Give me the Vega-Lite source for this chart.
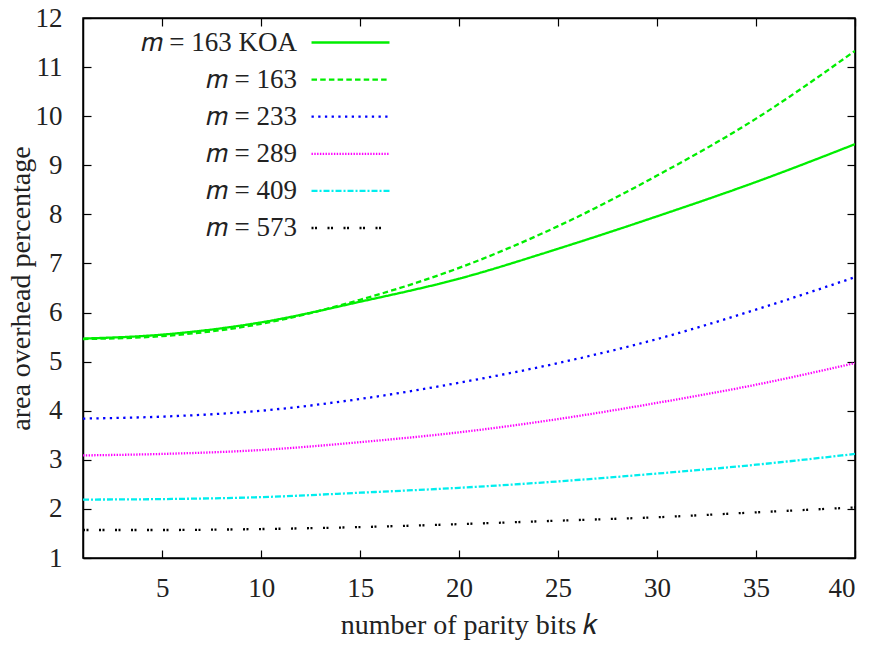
{
  "$schema": "https://vega.github.io/schema/vega-lite/v6.json",
  "width": 772,
  "height": 540,
  "autosize": "none",
  "padding": {"left": 83, "top": 18, "right": 18, "bottom": 95},
  "background": "white",
  "config": {
    "view": {"stroke": "black", "strokeWidth": 1.5},
    "axis": {
      "labelFont": "Liberation Serif",
      "labelFontSize": 27,
      "labelColor": "#222",
      "titleFont": "Liberation Serif",
      "titleFontSize": 28,
      "titleFontWeight": "normal",
      "titleColor": "#222",
      "grid": false,
      "domainColor": "black",
      "domainWidth": 1.5,
      "tickColor": "black",
      "tickWidth": 1.2,
      "tickSize": -8
    },
    "legend": {
      "orient": "none",
      "legendX": 254,
      "legendY": 11,
      "symbolType": "M-4,0H4",
      "symbolSize": 380,
      "symbolStrokeWidth": 2.3,
      "labelFont": "Liberation Serif",
      "labelFontSize": 27,
      "labelColor": "#222",
      "labelAlign": "right",
      "labelOffset": -67,
      "labelLimit": 400,
      "rowPadding": 9.1
    }
  },
  "data": {
    "values": [
      {"k": 1, "v": 5.47, "s": "𝑚 = 163 KOA"},
      {"k": 5, "v": 5.55, "s": "𝑚 = 163 KOA"},
      {"k": 10, "v": 5.80, "s": "𝑚 = 163 KOA"},
      {"k": 15, "v": 6.22, "s": "𝑚 = 163 KOA"},
      {"k": 20, "v": 6.69, "s": "𝑚 = 163 KOA"},
      {"k": 25, "v": 7.30, "s": "𝑚 = 163 KOA"},
      {"k": 30, "v": 7.96, "s": "𝑚 = 163 KOA"},
      {"k": 35, "v": 8.66, "s": "𝑚 = 163 KOA"},
      {"k": 40, "v": 9.43, "s": "𝑚 = 163 KOA"},
      {"k": 1, "v": 5.46, "s": "𝑚 = 163"},
      {"k": 5, "v": 5.52, "s": "𝑚 = 163"},
      {"k": 10, "v": 5.77, "s": "𝑚 = 163"},
      {"k": 15, "v": 6.26, "s": "𝑚 = 163"},
      {"k": 20, "v": 6.91, "s": "𝑚 = 163"},
      {"k": 25, "v": 7.76, "s": "𝑚 = 163"},
      {"k": 30, "v": 8.79, "s": "𝑚 = 163"},
      {"k": 35, "v": 9.95, "s": "𝑚 = 163"},
      {"k": 40, "v": 11.33, "s": "𝑚 = 163"},
      {"k": 1, "v": 3.84, "s": "𝑚 = 233"},
      {"k": 5, "v": 3.88, "s": "𝑚 = 233"},
      {"k": 10, "v": 4.00, "s": "𝑚 = 233"},
      {"k": 15, "v": 4.24, "s": "𝑚 = 233"},
      {"k": 20, "v": 4.57, "s": "𝑚 = 233"},
      {"k": 25, "v": 4.97, "s": "𝑚 = 233"},
      {"k": 30, "v": 5.46, "s": "𝑚 = 233"},
      {"k": 35, "v": 6.06, "s": "𝑚 = 233"},
      {"k": 40, "v": 6.72, "s": "𝑚 = 233"},
      {"k": 1, "v": 3.09, "s": "𝑚 = 289"},
      {"k": 5, "v": 3.12, "s": "𝑚 = 289"},
      {"k": 10, "v": 3.20, "s": "𝑚 = 289"},
      {"k": 15, "v": 3.36, "s": "𝑚 = 289"},
      {"k": 20, "v": 3.56, "s": "𝑚 = 289"},
      {"k": 25, "v": 3.83, "s": "𝑚 = 289"},
      {"k": 30, "v": 4.16, "s": "𝑚 = 289"},
      {"k": 35, "v": 4.53, "s": "𝑚 = 289"},
      {"k": 40, "v": 4.97, "s": "𝑚 = 289"},
      {"k": 1, "v": 2.19, "s": "𝑚 = 409"},
      {"k": 5, "v": 2.20, "s": "𝑚 = 409"},
      {"k": 10, "v": 2.24, "s": "𝑚 = 409"},
      {"k": 15, "v": 2.33, "s": "𝑚 = 409"},
      {"k": 20, "v": 2.43, "s": "𝑚 = 409"},
      {"k": 25, "v": 2.56, "s": "𝑚 = 409"},
      {"k": 30, "v": 2.72, "s": "𝑚 = 409"},
      {"k": 35, "v": 2.90, "s": "𝑚 = 409"},
      {"k": 40, "v": 3.12, "s": "𝑚 = 409"},
      {"k": 1, "v": 1.57, "s": "𝑚 = 573"},
      {"k": 5, "v": 1.57, "s": "𝑚 = 573"},
      {"k": 10, "v": 1.59, "s": "𝑚 = 573"},
      {"k": 15, "v": 1.63, "s": "𝑚 = 573"},
      {"k": 20, "v": 1.69, "s": "𝑚 = 573"},
      {"k": 25, "v": 1.76, "s": "𝑚 = 573"},
      {"k": 30, "v": 1.83, "s": "𝑚 = 573"},
      {"k": 35, "v": 1.93, "s": "𝑚 = 573"},
      {"k": 40, "v": 2.03, "s": "𝑚 = 573"}
    ]
  },
  "layer": [
    {
      "mark": {"type": "line", "interpolate": "monotone", "strokeWidth": 2.3, "clip": true},
      "encoding": {
        "x": {
          "field": "k", "type": "quantitative",
          "scale": {"domain": [1, 40], "nice": false, "zero": false},
          "axis": {"values": [5, 10, 15, 20, 25, 30, 35, 40], "title": "number of parity bits 𝑘", "labelPadding": 25, "titlePadding": 10}
        },
        "y": {
          "field": "v", "type": "quantitative",
          "scale": {"domain": [1, 12], "nice": false, "zero": false},
          "axis": {"values": [1, 2, 3, 4, 5, 6, 7, 8, 9, 10, 11, 12], "title": "area overhead percentage", "labelPadding": 29, "titlePadding": 0}
        },
        "color": {
          "field": "s", "type": "nominal",
          "scale": {
            "domain": ["𝑚 = 163 KOA", "𝑚 = 163", "𝑚 = 233", "𝑚 = 289", "𝑚 = 409", "𝑚 = 573"],
            "range": ["#00ee00", "#00ee00", "#0000ff", "#ff00ff", "#00eeee", "#000000"]
          },
          "legend": {"title": null}
        },
        "strokeDash": {
          "field": "s", "type": "nominal",
          "scale": {
            "domain": ["𝑚 = 163 KOA", "𝑚 = 163", "𝑚 = 233", "𝑚 = 289", "𝑚 = 409", "𝑚 = 573"],
            "range": [[1, 0], [5.5, 3.2], [2.3, 4.4], [1.4, 1.4], [6, 2, 2, 2], [2, 1.5, 2, 10.5]]
          },
          "legend": {"title": null}
        }
      }
    },
    {
      "mark": {"type": "line", "strokeOpacity": 0},
      "encoding": {
        "x": {
          "field": "k", "type": "quantitative",
          "scale": {"domain": [1, 40], "nice": false, "zero": false},
          "axis": {"orient": "top", "values": [5, 10, 15, 20, 25, 30, 35, 40], "labels": false, "title": null}
        },
        "y": {
          "field": "v", "type": "quantitative",
          "scale": {"domain": [1, 12], "nice": false, "zero": false},
          "axis": {"orient": "right", "values": [1, 2, 3, 4, 5, 6, 7, 8, 9, 10, 11, 12], "labels": false, "title": null}
        },
        "detail": {"field": "s", "type": "nominal"}
      }
    }
  ],
  "resolve": {"axis": {"x": "independent", "y": "independent"}}
}
